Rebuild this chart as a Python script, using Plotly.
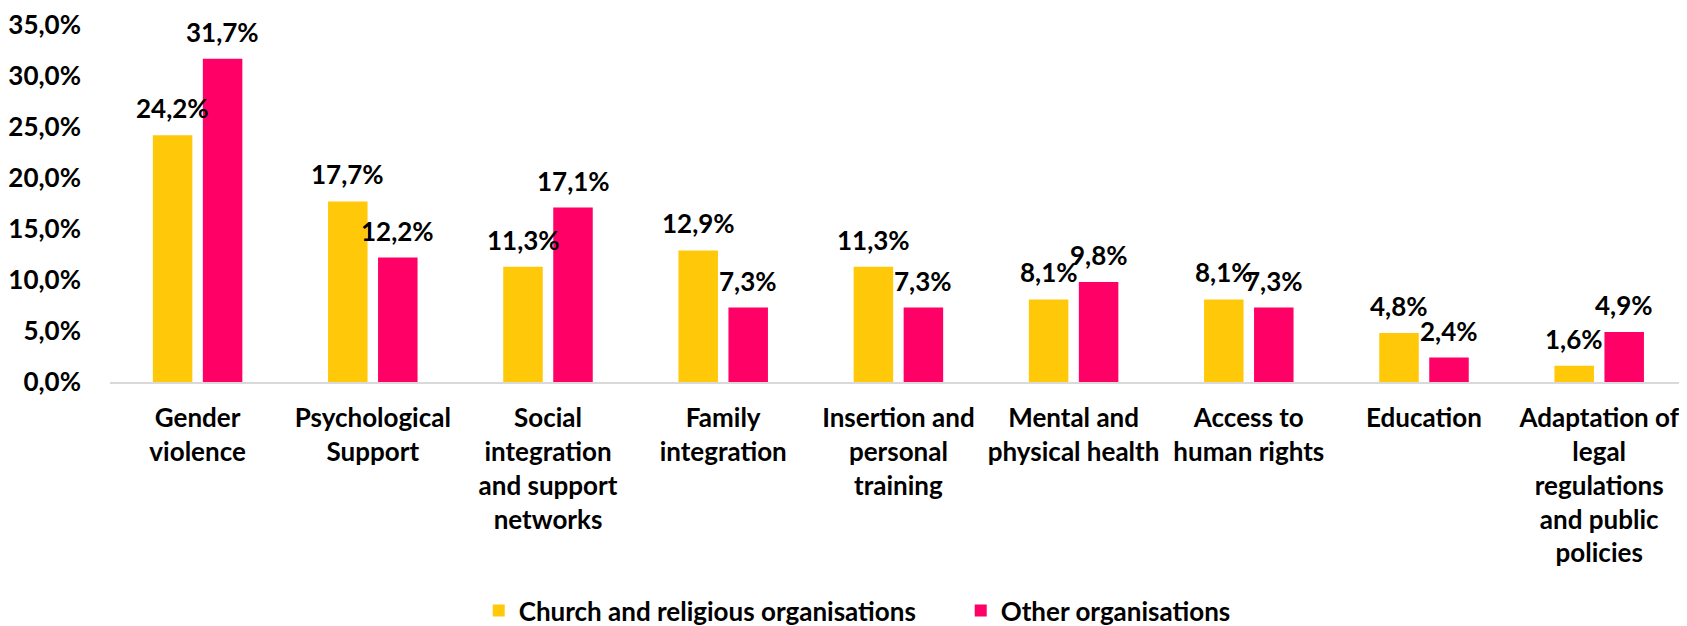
import plotly.graph_objects as go

categories = [
    "Gender<br>violence",
    "Psychological<br>Support",
    "Social<br>integration<br>and support<br>networks",
    "Family<br>integration",
    "Insertion and<br>personal<br>training",
    "Mental and<br>physical health",
    "Access to<br>human rights",
    "Education",
    "Adaptation of<br>legal<br>regulations<br>and public<br>policies",
]
church = [24.2, 17.7, 11.3, 12.9, 11.3, 8.1, 8.1, 4.8, 1.6]
other = [31.7, 12.2, 17.1, 7.3, 7.3, 9.8, 7.3, 2.4, 4.9]
series_names = ["Church and religious organisations", "Other organisations"]
colors = ["#FFC90A", "#FF0066"]
y_ticks = [0, 5, 10, 15, 20, 25, 30, 35]
y_ticktext = [f"{v:.1f}%".replace(".", ",") for v in y_ticks]

FONT = "Lato, 'Open Sans', sans-serif"
FS = 26

# page has an 8px body margin; figure sized to fill the window below it
W, H = 1671, 618
L, T, B = 102, 17, 244
cat_px = 175.2
n_cat_span = (W - L) / cat_px

fig = go.Figure()
for name, vals, col in zip(series_names, [church, other], colors):
    fig.add_trace(go.Bar(x=categories, y=vals, name=name, marker=dict(color=col, line=dict(width=0))))

slot = 50
ann = []
for i, vals in enumerate([church, other]):
    for c, v in zip(categories, vals):
        ann.append(dict(x=c, y=v, xref="x", yref="y", text=f"{v:.1f}%".replace(".", ","),
                        showarrow=False, xshift=(i - 0.5) * slot, yshift=27, yanchor="middle",
                        font=dict(family=FONT, size=FS, color="#000000", weight="bold")))

fig.update_layout(
    width=W, height=H,
    margin=dict(l=L, r=0, t=T, b=B, pad=0, autoexpand=False),
    paper_bgcolor="white", plot_bgcolor="white",
    barmode="group", bargap=1 - 2 * slot / cat_px, bargroupgap=0.21,
    separators=",.",
    font=dict(family=FONT, size=FS, color="#000000", weight="bold"),
    annotations=ann,
    showlegend=True,
    legend=dict(orientation="h", xref="container", yref="paper", x=0.2817, xanchor="left",
                y=-0.64, yanchor="middle", itemwidth=30, entrywidth=437, entrywidthmode="pixels",
                font=dict(family=FONT, size=FS, color="#000000", weight="bold")),
)
fig.update_xaxes(showline=True, linecolor="#D9D9D9", linewidth=2, ticks="", showgrid=False,
                 range=[-0.5, -0.5 + n_cat_span],
                 ticklabelstandoff=12, tickangle=0, automargin=False,
                 tickfont=dict(family=FONT, size=FS, color="#000000", weight="bold"))
fig.update_yaxes(range=[0, 35], tickvals=y_ticks, ticktext=y_ticktext, showgrid=False,
                 zeroline=False, showline=False, ticks="", ticklabelstandoff=28, automargin=False,
                 tickfont=dict(family=FONT, size=FS, color="#000000", weight="bold"))

fig.write_html("out.html")
